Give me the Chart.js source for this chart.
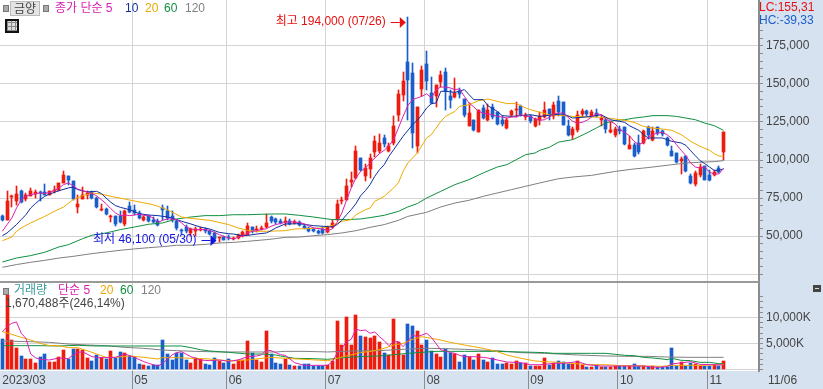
<!DOCTYPE html>
<html>
<head>
<meta charset="utf-8">
<script src="https://cdn.jsdelivr.net/npm/chart.js@4"></script>
<style>
html,body{margin:0;padding:0;background:#fff;overflow:hidden}
#wrap{position:relative;width:823px;height:389px;font:11.5px "Liberation Sans","Noto Sans CJK KR",sans-serif;color:#444}
canvas{position:absolute;left:0}
#c1{top:0}
#c2{top:282px}
.t{position:absolute;white-space:nowrap;line-height:14px}
.sq{position:absolute;width:4px;height:5px;background:#aaa;border:1px solid #777}
</style>
</head>
<body>
<div id="wrap">
<canvas id="c1" width="823" height="282"></canvas>
<canvas id="c2" width="823" height="107"></canvas>
<div style="position:absolute;left:0;top:281px;width:759px;height:2px;background:#999"></div>

<div class="sq" style="left:3px;top:5px"></div>
<div class="t" style="left:10px;top:1px;width:28px;height:13px;background:#e4e4e4;border:1px solid #bbb;text-align:center;font-size:12px">금양</div>
<div class="sq" style="left:43px;top:5px"></div>
<div class="t" style="left:55px;top:1px;color:#d81eb0;font-size:12px">종가 단순 5</div>
<div class="t" style="left:125px;top:1px;color:#1030a0;font-size:12px">10</div>
<div class="t" style="left:145px;top:1px;color:#eaa800;font-size:12px">20</div>
<div class="t" style="left:164px;top:1px;color:#109040;font-size:12px">60</div>
<div class="t" style="left:185px;top:1px;color:#808080;font-size:12px">120</div>
<div style="position:absolute;left:5px;top:19px;width:10px;height:10px;border:2px solid #111;background:repeating-linear-gradient(90deg,#888 0 1px,transparent 1px 4px),repeating-linear-gradient(0deg,#888 0 1px,#ddd 1px 4px)"></div>

<div class="t" style="left:759px;top:0;color:#e81010;font-size:12px">LC:155,31</div>
<div class="t" style="left:759px;top:13px;color:#1a5fd0;font-size:12px">HC:-39,33</div>

<div class="sq" style="left:3px;top:288px"></div>
<div class="t" style="left:14px;top:283px;color:#3a9a9a;font-size:12px">거래량</div>
<div class="t" style="left:58px;top:283px;color:#d81eb0;font-size:12px">단순 5</div>
<div class="t" style="left:100px;top:283px;color:#eaa800;font-size:12px">20</div>
<div class="t" style="left:120px;top:283px;color:#109040;font-size:12px">60</div>
<div class="t" style="left:141px;top:283px;color:#808080;font-size:12px">120</div>
<div class="t" style="left:5px;top:296px;color:#444;font-size:12px">1,670,488주(246,14%)</div>
<div style="position:absolute;left:813px;top:285px;width:8px;height:7px;background:#444"></div>
<div style="position:absolute;left:815px;top:288px;width:4px;height:1px;background:#ddd"></div>
<div class="t" style="left:768px;top:373px;font-size:12px">11/06</div>
</div>

<script>
// 2023/03/22 ~ 2023/11/06 daily, plus empty slots on the right
const dates=['03/22','03/23','03/24','03/27','03/28','03/29','03/30','03/31',
'04/03','04/04','04/05','04/06','04/07','04/10','04/11','04/12','04/13','04/14','04/17','04/18','04/19','04/20','04/21','04/24','04/25','04/26','04/27','04/28',
'05/02','05/03','05/04','05/08','05/09','05/10','05/11','05/12','05/15','05/16','05/17','05/18','05/19','05/22','05/23','05/24','05/25','05/26','05/30','05/31',
'06/01','06/02','06/05','06/07','06/08','06/09','06/12','06/13','06/14','06/15','06/16','06/19','06/20','06/21','06/22','06/23','06/26','06/27','06/28','06/29','06/30',
'07/03','07/04','07/05','07/06','07/07','07/10','07/11','07/12','07/13','07/14','07/17','07/18','07/19','07/20','07/21','07/24','07/25','07/26','07/27','07/28','07/31',
'08/01','08/02','08/03','08/04','08/07','08/08','08/09','08/10','08/11','08/14','08/16','08/17','08/18','08/21','08/22','08/23','08/24','08/25','08/28','08/29','08/30','08/31',
'09/01','09/04','09/05','09/06','09/07','09/08','09/11','09/12','09/13','09/14','09/15','09/18','09/19','09/20','09/21','09/22','09/25','09/26','09/27',
'10/04','10/05','10/06','10/10','10/11','10/12','10/13','10/16','10/17','10/18','10/19','10/20','10/23','10/24','10/25','10/26','10/27','10/30','10/31',
'11/01','11/02','11/03','11/06','11/07','11/08','11/09','11/10','11/13','11/14','11/15'];
const monthLabels={0:'2023/03',28:'05',48:'06',69:'07',90:'08',112:'09',131:'10',150:'11'};

// prices in thousand won
const opens=[62.9,60.8,75.5,72.8,79.8,74.6,76.5,77.9,79.2,79.0,
77.2,79.6,80.5,84.9,89.7,86.4,69.1,74.6,77.2,78.7,
75.0,67.3,67.8,62.5,62.9,63.4,57.9,70.0,67.3,65.1,
60.8,63.4,60.8,59.6,68.4,66.7,63.4,59.6,53.7,55.9,
52.0,53.1,53.7,54.6,53.1,52.0,48.5,49.1,49.1,48.0,
48.5,49.8,50.9,55.9,53.7,54.6,55.7,62.3,61.2,60.1,
59.0,60.1,59.0,59.0,56.8,55.3,54.6,53.5,54.6,52.6,
55.7,60.8,72.8,73.9,85.3,88.2,101.3,89.3,94.3,105.0,
105.7,114.7,105.7,111.2,129.8,143.0,164.3,157.5,109.4,146.7,
163.4,144.1,141.9,151.3,157.9,142.3,141.4,145.2,140.3,122.6,
126.1,118.4,134.2,126.1,134.9,131.4,126.5,121.0,129.4,132.7,
135.7,128.1,129.2,122.6,126.1,128.3,133.8,129.2,139.0,138.0,
122.6,116.7,120.0,130.3,132.0,129.2,130.9,126.1,126.5,118.2,
116.2,120.6,121.5,107.5,110.1,111.2,111.2,121.5,113.4,121.5,
118.9,114.5,106.1,104.6,99.1,102.4,89.5,84.4,90.4,96.3,
90.4,90.4,94.7,105.0];
const closes=[60.8,72.8,76.1,77.9,72.2,77.2,79.4,78.7,78.3,76.8,
79.8,80.3,84.9,89.9,87.1,74.3,71.3,77.2,78.3,75.0,
69.1,68.0,64.5,63.4,58.1,59.2,66.2,65.8,65.1,61.8,
62.3,59.6,59.2,57.2,67.3,61.8,60.3,55.3,53.0,53.5,
54.6,54.6,54.6,53.1,51.6,48.0,49.1,47.6,48.7,48.5,
50.9,52.4,56.4,53.1,54.6,55.5,58.6,59.6,59.0,58.6,
59.6,57.9,59.4,57.5,55.5,53.1,53.1,52.0,52.0,55.7,
58.6,71.3,73.9,83.1,87.1,106.1,93.2,94.7,101.3,112.7,
111.2,110.8,109.0,122.6,143.6,151.8,152.4,117.8,134.6,159.4,
151.8,137.5,149.6,156.1,145.2,139.7,143.9,143.4,129.8,130.9,
119.5,132.9,127.6,133.1,128.3,123.5,123.9,126.5,132.5,133.8,
129.4,129.4,125.4,127.0,128.7,133.1,129.4,136.4,131.6,123.2,
116.7,120.6,129.8,132.5,130.5,131.6,129.2,127.6,120.6,119.5,
120.6,118.9,110.8,110.1,102.8,105.0,119.3,116.7,118.9,117.8,
117.3,109.6,102.8,98.5,100.9,92.5,84.9,91.4,95.4,87.1,
87.1,92.3,92.3,118.2];
const highs=[64.0,79.8,77.2,82.7,80.5,78.3,81.6,80.5,79.8,84.4,
79.8,82.7,84.9,92.8,89.7,86.4,77.2,82.2,79.4,79.4,
75.5,71.3,68.4,64.0,63.4,66.2,67.3,72.2,70.6,66.2,
63.4,64.0,62.5,61.2,70.6,70.0,66.7,60.3,54.6,57.5,
55.3,55.7,55.7,55.3,53.7,52.4,49.3,49.8,50.5,49.1,
51.5,53.1,58.6,55.9,56.4,56.4,64.5,63.4,61.8,61.4,
62.5,61.2,60.3,59.6,57.5,55.7,55.3,54.2,56.1,56.4,
60.8,73.9,75.5,87.7,91.9,109.0,101.3,97.6,104.2,115.6,
117.3,116.7,111.2,128.7,145.8,157.7,194.0,163.8,134.6,161.6,
171.9,154.6,149.6,158.8,160.5,145.8,153.9,147.4,140.3,137.5,
126.1,132.9,136.4,137.1,137.1,131.4,128.7,127.6,133.1,138.2,
136.4,130.9,129.8,127.6,131.6,138.2,133.8,138.2,142.3,138.0,
126.5,121.5,132.0,133.6,133.1,132.7,133.8,129.8,127.6,125.4,
121.5,122.1,121.5,115.6,111.2,116.7,120.0,122.1,121.5,121.7,
119.5,115.1,109.0,104.6,102.0,102.4,91.0,92.5,97.4,96.3,
93.2,93.2,96.3,118.6];
const lows=[59.6,60.8,69.1,70.6,71.7,72.8,76.5,75.0,72.8,76.8,
76.8,78.3,79.8,84.9,83.8,73.9,65.1,74.6,74.3,74.3,
68.4,66.7,64.0,59.0,56.8,58.6,56.8,65.1,64.0,61.2,
59.9,59.4,58.6,56.8,60.8,60.8,59.4,53.7,51.6,52.0,
49.8,50.2,53.1,52.0,50.9,46.1,46.3,47.2,47.2,47.4,
48.0,49.3,50.7,52.0,52.4,54.2,55.3,58.6,58.1,57.9,
56.8,57.5,58.1,56.8,54.6,52.4,52.4,51.3,51.3,52.2,
55.0,60.3,71.3,73.5,82.2,87.5,92.5,86.0,88.2,102.0,
104.6,108.6,105.0,110.1,125.4,138.6,126.5,107.9,104.6,141.9,
146.3,137.1,134.9,148.0,132.7,134.0,140.8,140.8,128.3,122.1,
119.3,118.2,127.0,125.7,127.0,123.2,122.1,120.4,128.3,128.1,
128.7,126.1,124.3,121.5,123.2,127.6,126.1,127.0,128.7,122.8,
115.6,113.8,118.2,128.1,129.2,128.7,128.3,122.1,117.8,117.8,
115.1,117.3,110.1,107.5,101.8,104.2,110.8,113.8,112.7,116.2,
115.6,109.0,102.4,98.0,91.0,91.9,84.4,82.7,88.6,86.9,
86.0,89.7,91.4,100.0];
// volume in million shares
const volumes=[5.80,14.33,5.67,4.13,2.60,2.02,2.02,1.25,2.34,2.98,
1.44,1.44,2.34,3.75,2.02,4.01,4.01,3.75,2.21,1.57,
2.72,2.21,1.96,3.56,2.21,3.37,3.17,2.60,2.34,1.06,
.87,.67,.93,.93,5.67,2.98,1.83,3.24,3.24,1.83,
1.25,2.21,2.02,1.06,.93,2.21,1.64,1.19,2.02,1.06,
1.83,1.83,5.48,3.17,1.83,1.44,7.40,2.98,1.19,1.06,
2.02,.87,.67,.67,1.06,1.06,.67,.67,.67,.80,
1.64,9.33,4.71,10.10,4.71,10.48,6.44,6.25,6.06,6.44,
5.29,3.17,2.72,9.71,5.29,2.79,8.75,8.37,7.40,4.71,
5.67,3.49,2.98,2.40,3.94,3.17,2.98,1.44,2.79,2.40,
1.83,2.98,1.83,1.44,2.21,1.06,1.06,1.31,1.06,1.64,
1.19,1.19,.67,.67,.67,2.21,.87,1.19,1.64,1.44,
1.06,1.06,1.64,.87,.48,.48,.80,.48,.48,.48,
.61,.61,.67,.61,.99,.67,.67,.55,.67,.48,
.48,.48,4.13,.67,1.51,.67,1.31,1.06,.67,.67,
.67,.87,.67,1.67];

const ma5=[[0,53.1],[1,57.5],[2,61.8],[3,68.4],[4,73.9],[5,76.1],[6,77.2],[8,78.3],[9,77.9],[10,78.7],[11,79.8],[12,81.6],[13,83.8],[14,84.9],[15,83.1],[16,80.9],[17,79.8],[19,77.9],[20,76.5],[21,73.9],[22,71.3],[23,68.0],[24,65.1],[25,63.4],[26,63.8],[27,63.4],[28,63.8],[29,64.3],[30,63.6],[31,63.4],[32,61.8],[33,59.0],[34,60.3],[35,61.2],[36,61.2],[37,60.8],[38,58.6],[39,55.9],[40,54.6],[41,54.2],[42,54.2],[43,54.2],[44,53.7],[45,52.4],[46,50.9],[47,49.8],[48,48.7],[49,48.0],[50,49.1],[51,50.2],[52,52.0],[53,53.1],[54,53.5],[55,54.2],[56,54.8],[57,56.4],[58,57.5],[60,59.0],[62,59.4],[64,58.1],[66,55.3],[68,54.6],[69,53.5],[70,54.6],[71,59.0],[72,65.1],[73,73.5],[74,81.6],[75,88.2],[76,92.5],[77,94.7],[78,98.0],[79,101.3],[80,104.2],[81,106.4],[82,109.4],[83,113.4],[84,121.0],[85,128.7],[86,135.7],[87,139.7],[88,140.8],[89,141.9],[90,143.6],[91,140.8],[92,146.3],[93,148.0],[94,148.0],[95,147.4],[96,146.3],[97,146.7],[98,141.9],[99,137.5],[100,134.9],[101,132.0],[102,130.9],[103,130.3],[104,129.8],[105,128.7],[106,128.3],[107,127.6],[108,128.3],[109,128.3],[110,129.8],[111,128.7],[112,128.7],[113,127.0],[114,126.1],[115,126.5],[116,128.1],[117,130.3],[118,130.9],[119,130.9],[120,128.1],[121,125.4],[122,124.3],[123,124.8],[124,126.1],[125,128.3],[126,130.5],[127,129.8],[128,127.0],[129,125.4],[130,123.7],[131,120.0],[132,118.2],[133,116.0],[134,112.3],[135,110.1],[136,111.6],[137,115.1],[138,116.7],[139,117.8],[140,118.2],[141,116.7],[142,114.0],[143,110.1],[144,106.4],[145,102.8],[146,98.0],[147,95.4],[148,94.7],[149,95.4],[150,91.9],[151,90.8],[152,90.8],[153,94.7]];
const ma10=[[0,50.2],[1,52.0],[3,57.5],[4,60.8],[5,64.0],[6,68.4],[7,71.3],[8,73.9],[9,76.1],[10,77.6],[12,79.8],[14,81.6],[15,82.2],[16,80.5],[18,79.0],[20,79.4],[21,77.9],[22,75.0],[23,72.2],[24,70.0],[25,68.9],[27,67.3],[29,64.7],[31,63.8],[33,63.4],[35,62.5],[36,61.8],[38,59.7],[40,57.9],[42,55.9],[44,54.6],[46,52.4],[48,51.5],[49,51.3],[51,50.2],[52,50.4],[54,51.3],[56,52.0],[57,53.5],[58,55.3],[60,57.9],[63,58.1],[66,56.8],[68,56.4],[70,55.9],[71,57.5],[72,60.3],[73,64.0],[74,67.3],[75,71.3],[76,76.5],[77,79.8],[78,83.8],[79,89.3],[80,93.6],[81,96.9],[82,102.4],[83,106.8],[84,111.2],[85,115.6],[87,123.2],[88,126.1],[89,129.8],[90,134.2],[91,137.1],[92,137.5],[93,145.2],[94,145.2],[96,144.5],[98,146.3],[99,143.0],[100,139.7],[102,139.7],[103,135.7],[105,132.0],[106,129.2],[108,128.7],[110,129.2],[112,129.8],[114,128.7],[117,129.8],[119,130.3],[121,127.6],[123,128.1],[125,128.7],[127,129.8],[129,126.5],[130,125.9],[131,125.4],[132,124.8],[133,122.6],[135,119.5],[136,116.7],[137,114.5],[138,114.5],[140,114.5],[142,112.3],[144,111.2],[145,109.6],[146,106.1],[147,102.8],[148,99.6],[149,97.6],[150,95.4],[151,93.2],[152,93.2],[153,94.1]];
const ma20=[[0,46.9],[2,49.3],[3,53.1],[4,55.3],[6,58.6],[9,62.9],[11,66.2],[13,69.1],[15,73.9],[17,76.5],[19,78.3],[21,77.6],[23,76.1],[26,74.3],[29,72.4],[32,70.6],[35,67.3],[38,62.5],[40,61.6],[44,60.3],[48,57.5],[50,55.3],[52,53.7],[54,53.1],[56,53.1],[60,53.5],[62,54.6],[66,55.0],[68,55.3],[70,57.0],[72,59.6],[74,60.8],[75,64.0],[77,67.3],[78,68.4],[79,72.8],[81,76.1],[83,81.6],[84,84.9],[85,92.5],[86,98.0],[88,104.6],[90,114.5],[91,116.7],[92,121.0],[93,125.4],[94,128.7],[96,132.0],[97,135.3],[99,136.4],[101,139.0],[103,140.1],[105,138.6],[107,137.1],[109,137.1],[111,134.2],[112,133.1],[114,131.4],[116,129.8],[118,129.4],[121,128.7],[124,128.3],[127,128.1],[130,127.0],[132,126.1],[134,124.8],[136,122.1],[138,121.0],[140,120.4],[142,119.5],[144,116.7],[146,112.3],[148,109.0],[150,106.4],[151,104.2],[152,102.6],[153,102.4]];
const ma60=[[0,32.9],[3,35.5],[6,37.1],[9,39.3],[12,42.8],[14,44.3],[17,48.2],[19,50.5],[22,52.0],[25,54.2],[28,55.9],[31,57.7],[34,58.6],[37,61.2],[40,62.5],[43,63.4],[46,63.4],[49,64.0],[52,64.0],[55,64.3],[58,64.5],[60,64.5],[63,63.6],[66,62.5],[68,61.6],[70,60.8],[73,60.8],[76,61.2],[78,62.1],[81,63.6],[84,66.2],[86,69.1],[88,71.3],[90,75.0],[93,79.4],[96,83.8],[99,87.1],[102,91.5],[105,95.4],[107,96.9],[109,100.2],[111,103.5],[113,104.6],[114,106.4],[116,108.3],[118,111.8],[121,113.4],[124,117.8],[126,121.1],[128,124.3],[130,126.1],[132,126.5],[134,127.6],[136,128.3],[138,129.2],[141,129.2],[143,128.7],[145,127.6],[147,126.5],[149,124.3],[151,122.6],[153,119.5]];
const ma120=[[0,29.4],[3,31.2],[6,32.7],[9,34.0],[12,35.5],[15,36.6],[19,38.4],[22,39.5],[25,40.6],[28,41.5],[31,42.3],[34,43.0],[37,43.9],[40,43.9],[43,44.5],[46,45.4],[49,45.8],[52,46.5],[56,47.6],[58,48.3],[60,49.1],[63,49.3],[66,50.2],[69,50.9],[72,52.0],[75,53.5],[78,55.7],[81,57.5],[84,60.3],[86,62.9],[90,65.6],[93,69.1],[96,71.7],[99,73.5],[102,76.1],[105,78.3],[108,80.5],[111,82.7],[114,84.9],[118,87.7],[121,88.8],[125,89.9],[130,92.5],[134,94.1],[136,94.7],[138,95.4],[142,96.9],[145,98.0],[149,98.7],[151,98.9],[153,99.6]];

const volMa5=[[0,7.28],[1,8.24],[2,8.88],[3,9.13],[4,6.96],[5,5.99],[6,2.98],[7,2.28],[8,1.96],[10,1.83],[12,2.21],[14,2.08],[15,2.79],[16,3.24],[17,3.43],[19,2.47],[20,2.34],[22,2.28],[24,2.34],[26,2.98],[28,2.34],[30,1.51],[31,1.19],[33,.67],[34,1.19],[36,2.79],[37,3.24],[38,3.43],[40,2.47],[42,1.83],[44,1.70],[46,1.83],[48,1.57],[50,1.83],[52,2.47],[54,2.60],[55,2.85],[56,3.75],[57,3.62],[58,3.24],[59,2.85],[60,2.72],[62,1.31],[64,.80],[66,.80],[69,.80],[70,1.51],[71,3.11],[72,4.07],[73,5.35],[74,5.80],[75,7.79],[76,7.47],[77,7.60],[78,6.96],[79,7.21],[80,6.31],[81,5.55],[82,4.59],[83,5.35],[84,5.35],[85,4.39],[86,5.35],[87,6.63],[88,6.31],[89,6.63],[90,6.96],[91,6.19],[92,4.97],[93,3.75],[94,3.62],[95,3.24],[96,3.11],[97,2.72],[98,2.47],[100,2.47],[102,2.34],[103,2.21],[105,1.83],[107,1.44],[110,1.31],[112,.93],[114,.93],[115,.99],[117,1.19],[119,1.19],[122,1.51],[124,.93],[127,.67],[131,.67],[136,.67],[139,.42],[141,.55],[142,1.06],[146,1.51],[148,.99],[153,.87]];
const volMa20=[[0,7.28],[2,6.76],[4,6.19],[6,5.67],[8,5.03],[10,4.58],[12,4.58],[14,4.20],[16,4.20],[18,3.62],[20,2.98],[22,2.34],[24,2.34],[27,2.60],[30,2.34],[33,2.02],[34,2.28],[37,2.28],[40,2.15],[43,2.08],[46,1.83],[49,1.64],[52,1.83],[55,2.15],[57,2.34],[60,2.15],[64,1.96],[69,1.70],[71,2.15],[73,2.60],[76,3.24],[79,3.62],[81,4.07],[83,4.71],[85,5.03],[87,5.80],[89,6.31],[91,5.99],[93,5.67],[95,5.22],[98,4.71],[100,4.39],[102,4.07],[105,3.43],[107,2.79],[110,2.15],[113,1.64],[115,1.51],[118,1.38],[121,1.19],[124,.93],[128,.93],[131,.74],[136,.67],[140,.61],[142,.80],[146,.80],[149,.80],[153,.99]];
const volMa60=[[0,4.58],[4,4.58],[8,4.58],[12,4.52],[16,4.65],[20,4.52],[24,4.52],[28,4.52],[33,4.52],[38,4.52],[40,4.20],[42,3.81],[44,3.56],[48,3.30],[52,2.98],[55,2.98],[58,2.79],[59,2.60],[62,2.15],[66,2.08],[69,1.96],[71,2.15],[74,2.40],[77,2.53],[80,2.60],[83,2.85],[86,3.11],[89,3.30],[92,3.49],[95,3.49],[98,3.49],[101,3.49],[104,3.49],[107,3.43],[110,3.37],[113,3.30],[115,3.24],[117,3.11],[121,3.11],[125,3.11],[128,3.11],[130,2.92],[132,2.72],[134,2.66],[136,2.34],[138,2.21],[140,2.02],[141,1.89],[142,2.15],[144,1.76],[146,1.70],[148,1.38],[150,1.38],[152,1.12],[153,1.12]];
const volMa120=[[0,5.48],[6,5.35],[10,5.22],[14,4.90],[18,4.71],[22,4.58],[26,4.26],[30,4.07],[34,3.75],[37,3.62],[41,3.49],[46,3.37],[50,3.37],[54,3.37],[58,3.37],[60,3.49],[64,3.49],[69,3.37],[74,3.56],[80,3.62],[86,3.94],[90,4.07],[94,4.01],[98,3.88],[101,3.75],[105,3.62],[110,3.24],[115,3.11],[118,2.98],[122,2.79],[128,2.60],[133,2.53],[137,2.53],[141,2.40],[146,2.34],[150,2.34],[153,2.34]];

const RED='#ee1c0e',BLUE='#1a5ecb',GRID='#d4d4d4',AXIS='#8c8c8c',BAND='#d6e2f0';
const C5='#dc20b0',C10='#1030a0',C20='#f0aa00',C60='#109040',C120='#808080';
const FONT='"Liberation Sans","Noto Sans CJK KR",sans-serif';
const candleColors=opens.map((o,i)=>closes[i]>=o?RED:BLUE);

function lineSet(pts,color){
 return {type:'line',data:pts.map(p=>({x:dates[p[0]],y:p[1]})),borderColor:color,borderWidth:1,pointRadius:0,tension:0,order:1};
}
function barSet(vals,width,order){
 return {type:'bar',data:vals,backgroundColor:candleColors,barThickness:width,grouped:false,order:order};
}

// paints the pane white on the blue frame and snaps bars to whole pixels
const frame={
 id:'frame',
 beforeDraw(ch){
  const c=ch.ctx,a=ch.chartArea;
  c.save();
  c.fillStyle=BAND;c.fillRect(0,0,ch.width,ch.height);
  c.fillStyle='#fff';c.fillRect(a.left,a.top,a.right-a.left,a.bottom-a.top);
  c.restore();
 },
 afterDatasetsUpdate(ch){
  ch.data.datasets.forEach((d,i)=>{
   if(d.type!=='bar')return;
   ch.getDatasetMeta(i).data.forEach(el=>{
    el.x=Math.floor(el.x)+.5;
    el.y=Math.round(el.y);el.base=Math.round(el.base);
    if(Math.abs(el.base-el.y)<1)el.base=el.y+1;
   });
  });
 }
};

// 최고 / 최저 notes, tied to the candle they point at
function note(ch,idx,val,dy,text,color){
 const c=ch.ctx,x=ch.scales.x.getPixelForValue(idx)+dy.dx,y=Math.round(ch.scales.y.getPixelForValue(val))+dy.dy;
 c.save();
 c.strokeStyle=c.fillStyle=color;c.lineWidth=1;
 c.beginPath();c.moveTo(x-15,y+.5);c.lineTo(x-6,y+.5);c.stroke();
 c.beginPath();c.moveTo(x,y+.5);c.lineTo(x-6,y-5);c.lineTo(x-6,y+6);c.closePath();c.fill();
 c.font='12px '+FONT;c.textAlign='right';c.textBaseline='middle';
 c.fillText(text,x-20,y);
 c.restore();
}
const notes={
 id:'notes',
 afterDatasetsDraw(ch){
  const hi=Math.max(...highs),lo=Math.min(...lows);
  note(ch,highs.indexOf(hi),hi,{dx:-2,dy:5},'최고 194,000 (07/26)','#e81010');
  note(ch,lows.indexOf(lo),lo,{dx:2,dy:-2},'최저 46,100 (05/30)','#1414e0');
 }
};

function xAxis(withLabels){
 return {
  type:'category',offset:true,
  border:{display:false},
  grid:{offset:true,drawTicks:withLabels,tickLength:18,lineWidth:1,
   color:c=>(monthLabels[c.index]&&c.index>0)?GRID:'rgba(0,0,0,0)',
   tickColor:c=>(monthLabels[c.index]&&c.index>0)?AXIS:'rgba(0,0,0,0)'},
  ticks:{display:withLabels,autoSkip:false,maxRotation:0,align:'start',padding:-16,color:'#444',font:{size:12,family:FONT},
   callback:(v,i)=>monthLabels[i]||''},
  afterFit:s=>{s.height=withLabels?18:0;}
 };
}
function yAxis(min,max,step,isLine,tickOn,fmt){
 return {
  position:'right',min:min,max:max,
  border:{color:AXIS,width:2},
  grid:{tickLength:4,
   color:c=>isLine(Math.round(c.tick.value))?GRID:'rgba(0,0,0,0)',
   tickColor:c=>tickOn(Math.round(c.tick.value))?AXIS:'rgba(0,0,0,0)'},
  ticks:{stepSize:step,includeBounds:false,autoSkip:false,padding:3,color:'#444',font:{size:12,family:FONT},
   callback:v=>fmt(Math.round(v))},
  afterFit:s=>{
   s.width=64;
   // no room reserved for half a label above and below the pane
   s.paddingTop=s.paddingBottom=0;
   if(s._margins){s._margins.top=0;s._margins.bottom=0;}
  }
 };
}
const baseOpts={responsive:false,animation:false,events:[],layout:{padding:0,autoPadding:false},plugins:{legend:{display:false},tooltip:{enabled:false}}};

new Chart(document.getElementById('c1'),{
 data:{labels:dates,datasets:[
  lineSet(ma5,C5),lineSet(ma10,C10),lineSet(ma20,C20),lineSet(ma60,C60),lineSet(ma120,C120),
  barSet(opens.map((o,i)=>[o,closes[i]]),3,2),
  barSet(lows.map((l,i)=>[l,highs[i]]),1,3)
 ]},
 options:{...baseOpts,scales:{
  x:xAxis(false),
  y:yAxis(19.737,205.263,5,v=>v%25===0&&v<=175,v=>v>=25&&v<=190,
   v=>(v%25===0&&v>=50&&v<=175)?v+',000':'')
 }},
 plugins:[frame,notes]
});

new Chart(document.getElementById('c2'),{
 data:{labels:dates,datasets:[
  lineSet(volMa5,C5),lineSet(volMa20,C20),lineSet(volMa60,C60),lineSet(volMa120,C120),
  barSet(volumes,3,2)
 ]},
 options:{...baseOpts,scales:{
  x:xAxis(true),
  y:yAxis(-.288,16.827,1,v=>v%5===0&&v<=10,v=>v>=0&&v<=14,
   v=>(v===5||v===10)?v+',000K':'')
 }},
 plugins:[frame]
});
</script>
</body>
</html>
